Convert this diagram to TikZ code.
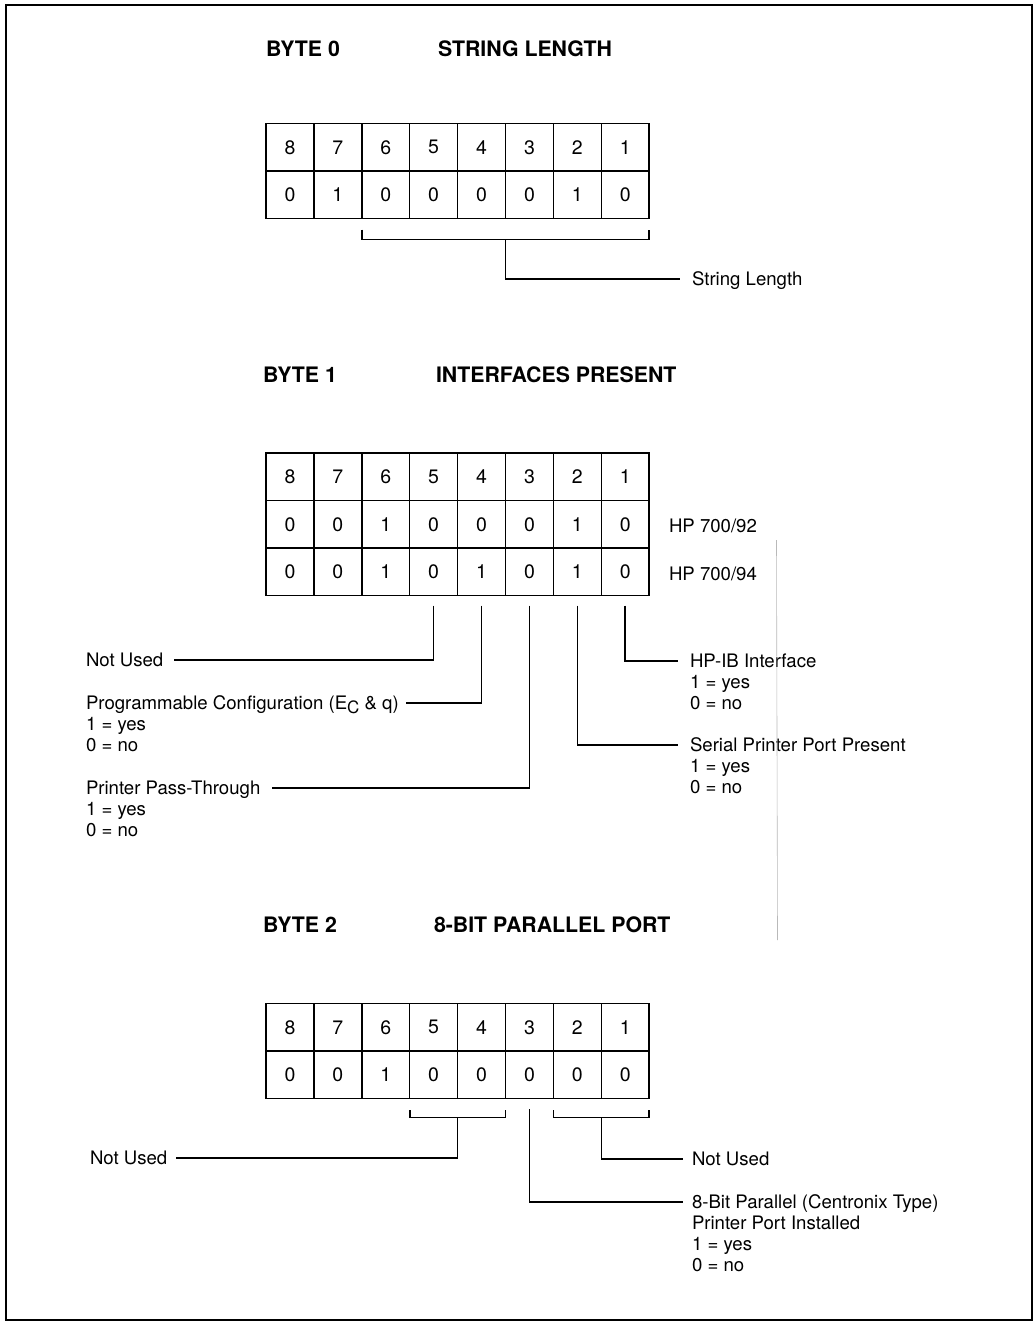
\documentclass[tikz,border=0pt]{standalone}
\usepackage{fontspec}
\setmainfont{TeX Gyre Heros}
\begin{document}
\begin{tikzpicture}[x=1pt,y=-1pt,
  cell/.style={draw, line width=1.5pt, minimum width=47.9pt, minimum height=47.5pt,
    inner sep=0pt, outer sep=0pt, font=\fontsize{19.5}{19.5}\selectfont},
  lbl/.style={inner sep=0pt, outer sep=0pt, anchor=west, text height=13.3pt, text depth=0pt,
    font=\fontsize{18.6}{21}\selectfont},
  ttl/.style={inner sep=0pt, outer sep=0pt, anchor=west, text height=15pt, text depth=0pt,
    font=\fontsize{21.3}{21.3}\selectfont\bfseries},
  conn/.style={line width=1.6pt}]
\useasboundingbox (0,0) rectangle (1034,1322);
\draw[line width=2pt] (6,5) rectangle (1032,1320);

\newcommand\bitrow[3]{%
  \foreach \v [count=\i, evaluate=\i as \b using int(9-\i)] in {#3}
    {\node[cell] (#1\b) at ({266+47.9*(\i-0.5)}, {#2+23.75}) {\v};}}

% ---------- BYTE 0 ----------
\node[ttl] (t0a) at (266,49) {BYTE 0};
\node[ttl] (t0b) at (438,49) {STRING LENGTH};
\bitrow{b0h}{123.5}{8,7,6,5,4,3,2,1}
\bitrow{b0v}{171}{0,1,0,0,0,0,1,0}
\node[lbl] (strlen) at (692,279) {String Length};
\draw[conn] ([yshift=-11pt]b0v6.south west) -- ++(0,10) -| ([yshift=-11pt]b0v1.south east);
\draw[conn] ([yshift=-21pt]b0v3.south west) |- ([xshift=-12pt]strlen.west);

% ---------- BYTE 1 ----------
\node[ttl] (t1a) at (263,375) {BYTE 1};
\node[ttl] (t1b) at (436,375) {INTERFACES PRESENT};
\bitrow{b1h}{453}{8,7,6,5,4,3,2,1}
\bitrow{b1a}{500.5}{0,0,1,0,0,0,1,0}
\bitrow{b1b}{548}{0,0,1,0,1,0,1,0}
\node[lbl] (hp92) at (669,526) {HP 700/92};
\node[lbl] (hp94) at (669,574) {HP 700/94};

\node[lbl] (nu1) at (86,660) {Not Used};
\node[lbl] (prog) at (86,703) {\begin{tabular}[t]{@{}l@{}}Programmable Configuration (E\raisebox{-4pt}{\fontsize{17}{17}\selectfont C} \& q)\\1 = yes\\0 = no\end{tabular}};
\node[lbl] (pass) at (86,788) {\begin{tabular}[t]{@{}l@{}}Printer Pass-Through\\1 = yes\\0 = no\end{tabular}};
\node[lbl] (hpib) at (690,661) {\begin{tabular}[t]{@{}l@{}}HP-IB Interface\\1 = yes\\0 = no\end{tabular}};
\node[lbl] (serial) at (690,745) {\begin{tabular}[t]{@{}l@{}}Serial Printer Port Present\\1 = yes\\0 = no\end{tabular}};

\draw[conn] ([yshift=-10pt]b1b5.south) |- ([xshift=11pt]nu1.east);
\draw[conn] ([yshift=-10pt]b1b4.south) |- ([xshift=320pt]prog.west);
\draw[conn] ([yshift=-10pt]b1b3.south) |- ([xshift=186pt]pass.west);
\draw[conn] ([yshift=-10pt]b1b1.south) |- ([xshift=-12pt]hpib.west);
\draw[conn] ([yshift=-10pt]b1b2.south) |- ([xshift=-12pt]serial.west);

% scan artefact line
\draw[gray!55, line width=0.6pt] (776.5,540) -- (777.5,940);

% ---------- BYTE 2 ----------
\node[ttl] (t2a) at (263,925) {BYTE 2};
\node[ttl] (t2b) at (434,925) {8-BIT PARALLEL PORT};
\bitrow{b2h}{1003.5}{8,7,6,5,4,3,2,1}
\bitrow{b2v}{1051}{0,0,1,0,0,0,0,0}

\node[lbl] (nu2) at (90,1158) {Not Used};
\node[lbl] (nu3) at (692,1159) {Not Used};
\node[lbl] (par) at (692,1202) {\begin{tabular}[t]{@{}l@{}}8-Bit Parallel (Centronix Type)\\Printer Port Installed\\1 = yes\\0 = no\end{tabular}};

\draw[conn] ([yshift=-11.5pt]b2v5.south west) -- ++(0,7.5) -| ([yshift=-11.5pt]b2v4.south east);
\draw[conn] ([yshift=-19pt]b2v5.south east) |- ([xshift=9pt]nu2.east);
\draw[conn] ([yshift=-11.5pt]b2v2.south west) -- ++(0,7.5) -| ([yshift=-11.5pt]b2v1.south east);
\draw[conn] ([yshift=-19pt]b2v2.south east) |- ([xshift=-9pt]nu3.west);
\draw[conn] ([yshift=-10.5pt]b2v3.south) |- ([xshift=-9pt]par.west);
\end{tikzpicture}
\end{document}
